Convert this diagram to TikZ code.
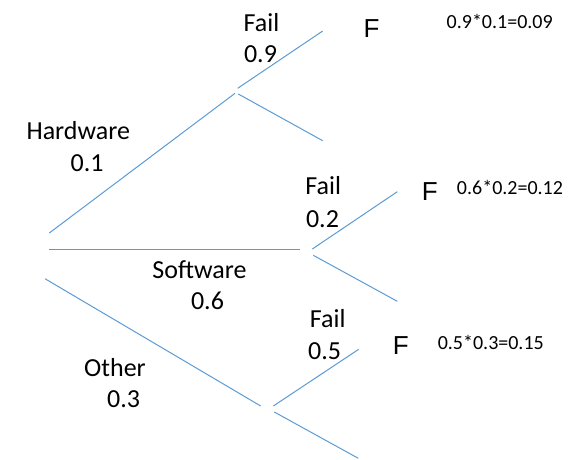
\documentclass[tikz,border=0pt]{standalone}
\usepackage{fontspec}
\setmainfont{Carlito}
\newfontfamily\arialfont{Liberation Sans}
\definecolor{branch}{HTML}{5B9BD5}
\begin{document}
\begin{tikzpicture}[x=1pt,y=-1pt,
  edge/.style={draw=branch,line width=1pt},
  lbl/.style={anchor=base,inner sep=0pt,font=\fontsize{26}{28}\selectfont},
  fmark/.style={anchor=base,inner sep=0pt,font=\arialfont\fontsize{26}{28}\selectfont},
  calc/.style={anchor=base,inner sep=0pt,font=\fontsize{20}{22}\selectfont}]
\useasboundingbox (0,0) rectangle (570,459);
% coordinates of branch ends
\coordinate (hw0) at (49.3,233);
\coordinate (hw1) at (235,93.3);
\coordinate (sw0) at (49.3,249.7);
\coordinate (sw1) at (300,249.7);
\coordinate (ot0) at (45,278.7);
\coordinate (ot1) at (260.7,406);
\coordinate (a0) at (237.7,88.3);
\coordinate (a1) at (322.7,31);
\coordinate (b0) at (238.3,94);
\coordinate (b1) at (322.7,140.7);
\coordinate (c0) at (312.3,249);
\coordinate (c1) at (397.3,191.7);
\coordinate (d0) at (313.3,255.3);
\coordinate (d1) at (397.3,301.3);
\coordinate (e0) at (273.3,406);
\coordinate (e1) at (358.7,349.3);
\coordinate (f0) at (274.3,412);
\coordinate (f1) at (358.3,458.3);
% connectors
\draw[edge] (hw0) -- (hw1);
\draw[edge] (sw0) -- (sw1);
\draw[edge] (ot0) -- (ot1);
\draw[edge] (a0) -- (a1);
\draw[edge] (b0) -- (b1);
\draw[edge] (c0) -- (c1);
\draw[edge] (d0) -- (d1);
\draw[edge] (e0) -- (e1);
\draw[edge] (f0) -- (f1);
% labels
\node[lbl] (hwl) at (78.3,139.3) {Hardware};
\node[lbl] (hwp) at (87.2,171.3) {0.1};
\node[lbl] (swl) at (199.5,278) {Software};
\node[lbl] (swp) at (207.5,309) {0.6};
\node[lbl] (otl) at (115,376) {Other};
\node[lbl] (otp) at (123.7,407.7) {0.3};
\node[lbl] (fa) at (261.5,31) {Fail};
\node[lbl] (pa) at (260.5,62) {0.9};
\node[lbl] (fb) at (323.2,194.7) {Fail};
\node[lbl] (pb) at (322.5,227) {0.2};
\node[lbl] (fc) at (327.8,327.7) {Fail};
\node[lbl] (pc) at (324.7,359.3) {0.5};
\node[fmark] (Fa) at (371.5,37) {F};
\node[fmark] (Fb) at (429.7,200.3) {F};
\node[fmark] (Fc) at (400.7,354.3) {F};
\node[calc] (ca) at (499.7,28.3) {0.9*0.1=0.09};
\node[calc] (cb) at (510,194.7) {0.6*0.2=0.12};
\node[calc] (cc) at (490.8,349.3) {0.5*0.3=0.15};
\end{tikzpicture}
\end{document}
